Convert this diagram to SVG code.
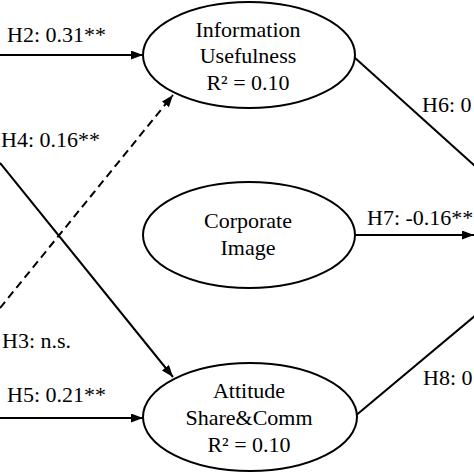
<svg xmlns="http://www.w3.org/2000/svg" width="474" height="474" viewBox="0 0 474 474">
<style>
.node{fill:#fff;stroke:#000;stroke-width:2}
.t{font-family:"Liberation Serif","Times New Roman",serif;font-size:22px;fill:#000}
.c{text-anchor:middle}
.e{stroke:#000;stroke-width:2;fill:none}
.d{stroke-dasharray:8,5}
</style>
<defs>
<marker id="ah" markerUnits="userSpaceOnUse" markerWidth="13" markerHeight="10" refX="12" refY="4.5" orient="auto">
<path d="M0,0 L12,4.5 L0,9 z" fill="#000"/>
</marker>
</defs>
<rect width="474" height="474" fill="#fff"/>
<g id="connectors">
<line class="e" x1="0" y1="55" x2="143" y2="55" marker-end="url(#ah)"/>
<line class="e d" x1="0" y1="308" x2="173" y2="95" marker-end="url(#ah)"/>
<line class="e" x1="0" y1="163" x2="173" y2="377" marker-end="url(#ah)"/>
<line class="e" x1="0" y1="418" x2="143" y2="418" marker-end="url(#ah)"/>
<line class="e" x1="354" y1="235" x2="474" y2="235" marker-end="url(#ah)"/>
<line class="e" x1="354" y1="57" x2="476" y2="167"/>
<line class="e" x1="354" y1="417" x2="476" y2="315"/>
<text class="t" x="7" y="42">H2: 0.31**</text>
<text class="t" x="1" y="147">H4: 0.16**</text>
<text class="t" x="2" y="348">H3: n.s.</text>
<text class="t" x="7" y="402">H5: 0.21**</text>
<text class="t" x="422" y="112">H6: 0</text>
<text class="t" x="367" y="225">H7: -0.16**</text>
<text class="t" x="423" y="385">H8: 0</text>
</g>
<g id="info">
<ellipse class="node" cx="249" cy="55" rx="106" ry="53"/>
<text class="t c" x="248" y="37">Information</text>
<text class="t c" x="248" y="63">Usefulness</text>
<text class="t c" x="248" y="90">R² = 0.10</text>
</g>
<g id="corporate">
<ellipse class="node" cx="249" cy="235" rx="106" ry="53"/>
<text class="t c" x="248" y="228">Corporate</text>
<text class="t c" x="248" y="255">Image</text>
</g>
<g id="attitude">
<ellipse class="node" cx="250" cy="417" rx="107" ry="54"/>
<text class="t c" x="249" y="398">Attitude</text>
<text class="t c" x="249" y="425">Share&amp;Comm</text>
<text class="t c" x="249" y="452">R² = 0.10</text>
</g>
</svg>
